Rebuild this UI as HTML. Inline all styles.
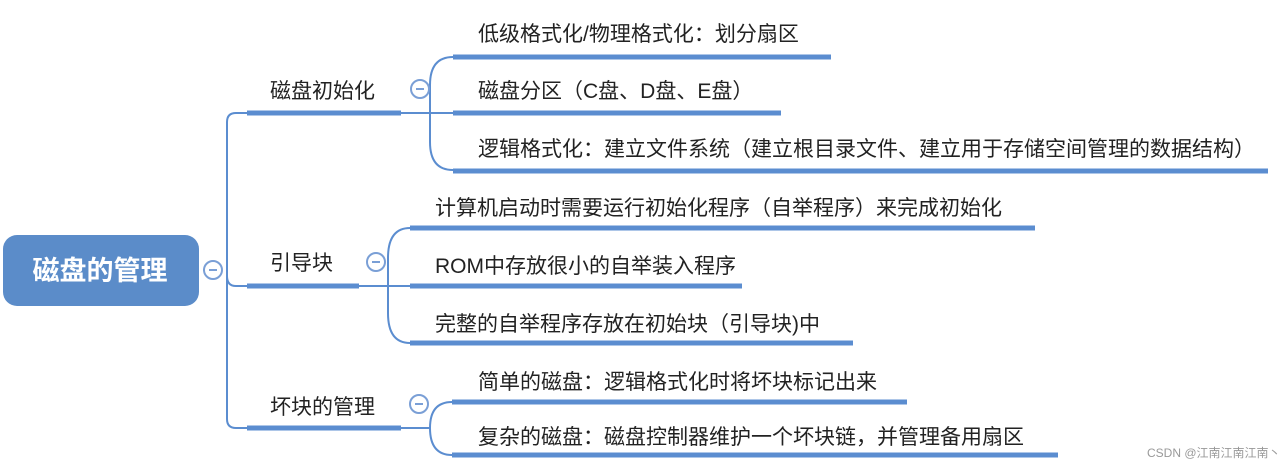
<!DOCTYPE html>
<html><head><meta charset="utf-8"><style>
body{margin:0;background:#fff;width:1280px;height:465px;overflow:hidden}
svg text{font-family:"Liberation Sans","Noto Sans CJK SC",sans-serif;fill:#222}
</style></head><body>
<svg width="1280" height="465" viewBox="0 0 1280 465" xmlns="http://www.w3.org/2000/svg">
<g fill="none" stroke="#5b8dd0" stroke-width="2">
<path d="M203 270 H222 M247 113 H236 Q227 113 227 122 V419 Q227 428 236 428 H247 M227 276 Q227 286 236 286 H247"/>
<path d="M401 113 H453 M453 57 Q430 57 430 85 V142 Q430 170 453 170"/>
<path d="M359 286 H410 M410 228 Q388 228 388 258 V313 Q388 343 410 343"/>
<path d="M401 428 H430 M452 402 Q430 402 430 428 Q430 455 452 455"/>
</g>
<g stroke="#5b8dd0" stroke-width="5" stroke-linecap="butt">
<line x1="247" y1="113" x2="401" y2="113"/>
<line x1="247" y1="286" x2="359" y2="286"/>
<line x1="247" y1="428" x2="401" y2="428"/>
<line x1="453" y1="57" x2="831" y2="57"/>
<line x1="453" y1="113" x2="781" y2="113"/>
<line x1="453" y1="171" x2="1268" y2="171"/>
<line x1="410" y1="228" x2="1035" y2="228"/>
<line x1="410" y1="286" x2="742" y2="286"/>
<line x1="410" y1="343" x2="853" y2="343"/>
<line x1="452" y1="402" x2="907" y2="402"/>
<line x1="452" y1="455" x2="1058" y2="455"/>
</g>
<rect x="3" y="235" width="196" height="71" rx="14" fill="#5b8cc9"/>
<text x="100" y="280" text-anchor="middle" font-size="27" font-weight="bold" style="fill:#fff">磁盘的管理</text>
<g fill="#fff" stroke="#7a9fd6" stroke-width="2">
<circle cx="213" cy="270" r="9"/>
<circle cx="420" cy="89" r="9"/>
<circle cx="376" cy="262" r="9"/>
<circle cx="419" cy="404" r="9"/>
</g>
<g stroke="#7a9fd6" stroke-width="2">
<line x1="209" y1="270" x2="217" y2="270"/><line x1="416" y1="89" x2="424" y2="89"/>
<line x1="372" y1="262" x2="380" y2="262"/><line x1="415" y1="404" x2="423" y2="404"/>
</g>
<g font-size="21">
<text x="270" y="98">磁盘初始化</text>
<text x="270" y="270">引导块</text>
<text x="270" y="414">坏块的管理</text>
<text x="478" y="41">低级格式化/物理格式化：划分扇区</text>
<text x="478" y="98">磁盘分区（C盘、D盘、E盘）</text>
<text x="478" y="156">逻辑格式化：建立文件系统（建立根目录文件、建立用于存储空间管理的数据结构）</text>
<text x="435" y="215">计算机启动时需要运行初始化程序（自举程序）来完成初始化</text>
<text x="435" y="273">ROM中存放很小的自举装入程序</text>
<text x="435" y="331">完整的自举程序存放在初始块（引导块)中</text>
<text x="478" y="389">简单的磁盘：逻辑格式化时将坏块标记出来</text>
<text x="478" y="444">复杂的磁盘：磁盘控制器维护一个坏块链，并管理备用扇区</text>
</g>
<text x="1147" y="457" font-size="12" style="fill:#999">CSDN @江南江南江南丶</text>
</svg>
</body></html>
